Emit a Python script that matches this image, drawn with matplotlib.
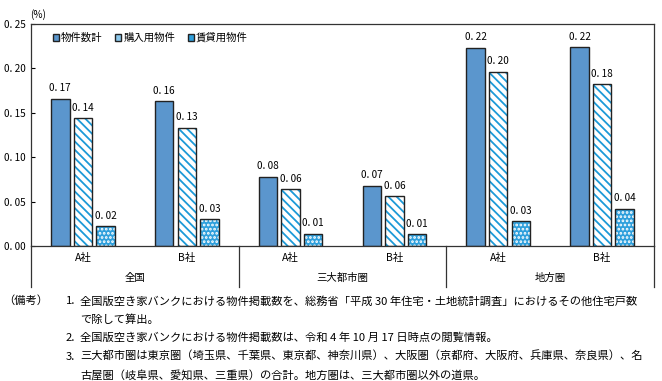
import matplotlib
matplotlib.use("Agg")
from matplotlib import pyplot as plt
from matplotlib.patches import Patch
import matplotlib.transforms as mtransforms
import numpy as np

plt.rcParams['font.family'] = ['Noto Sans CJK JP', 'DejaVu Sans']
plt.rcParams['hatch.linewidth'] = 1.3

# data
companies = ["A社", "B社", "A社", "B社", "A社", "B社"]
regions = ["全国", "三大都市圏", "地方圏"]
series_names = ["物件数計", "購入用物件", "賃貸用物件"]
total = [0.166, 0.163, 0.078, 0.068, 0.223, 0.224]
purchase = [0.144, 0.133, 0.064, 0.056, 0.196, 0.182]
rental = [0.022, 0.030, 0.014, 0.013, 0.028, 0.042]

notes = [
    ("（備考）", "1.", "全国版空き家バンクにおける物件掲載数を、総務省「平成 30 年住宅・土地統計調査」におけるその他住宅戸数"),
    ("", "", "で除して算出。"),
    ("", "2.", "全国版空き家バンクにおける物件掲載数は、令和 4 年 10 月 17 日時点の閲覧情報。"),
    ("", "3.", "三大都市圏は東京圏（埼玉県、千葉県、東京都、神奈川県）、大阪圏（京都府、大阪府、兵庫県、奈良県）、名"),
    ("", "", "古屋圏（岐阜県、愛知県、三重県）の合計。地方圏は、三大都市圏以外の道県。"),
]

blue = "#5b96cd"
stripe = "#1c9ad8"
dots = "#2e9fdc"

fig = plt.figure(figsize=(6.62, 3.81), dpi=100)
ax = fig.add_axes([31/662, 1-246/381, 623/662, 222/381])

x = np.arange(len(companies))
w = 0.178
gap = 0.218
styles = [
    dict(data=total, face=blue, hatch=None, hc=blue),
    dict(data=purchase, face="white", hatch="\\\\\\\\", hc=stripe),
    dict(data=rental, face=dots, hatch="....", hc="white"),
]
for i, s in enumerate(styles):
    xs = x + (i - 1) * gap
    # fill with hatch (hatch takes the edge colour), then a black outline on top
    ax.bar(xs, s["data"], w, color=s["face"], hatch=s["hatch"],
           edgecolor=s["hc"], linewidth=0, zorder=2)
    ax.bar(xs, s["data"], w, fill=False, edgecolor="#222222", linewidth=1.0, zorder=3)
    for xv, v in zip(xs, s["data"]):
        ax.annotate(f"{v:.2f}".replace(".", ". "), (xv, v), xytext=(0, 4),
                    textcoords="offset points", ha="center", va="bottom", fontsize=7.2)

ax.set_xlim(-0.5, 5.5)
ax.set_ylim(0, 0.25)
ax.set_yticks([0, 0.05, 0.10, 0.15, 0.20, 0.25])
ax.set_yticklabels([f"{t:.2f}".replace(".", ". ") for t in ax.get_yticks()], fontsize=7.2)
ax.tick_params(axis="y", direction="in", length=3, width=0.8, pad=4)
ax.set_xticks([])
for sp in ax.spines.values():
    sp.set_linewidth(0.9)
    sp.set_color("#333333")

# two-level category axis below the plot
trans = mtransforms.blended_transform_factory(ax.transData, ax.transAxes)
for xv, c in zip(x, companies):
    ax.text(xv, -12/222, c, transform=trans, ha="center", va="center", fontsize=7.5)
for k, r in enumerate(regions):
    ax.text(2*k + 0.5, -32/222, r, transform=trans, ha="center", va="center", fontsize=7.5)
for xb in [-0.5, 1.5, 3.5, 5.5]:
    ax.plot([xb, xb], [0, -41/222], transform=trans, color="#333333",
            linewidth=0.9, clip_on=False)

fig.text(30/662, 1-15/381, "(%)", ha="left", va="center", fontsize=7.2)

handles = [
    Patch(facecolor=blue, edgecolor="#222222"),
    Patch(facecolor="#8cc8ec", edgecolor="#222222"),
    Patch(facecolor=dots, edgecolor="#222222"),
]
ax.legend(handles, series_names, loc="upper left", bbox_to_anchor=(0.025, 0.99),
          ncol=3, frameon=False, fontsize=7.5, handlelength=0.6, handleheight=0.6,
          handletextpad=0.2, columnspacing=1.2, borderaxespad=0.2)

# notes under the chart
for j, (head, num, txt) in enumerate(notes):
    y = 1 - (301 + j*18.5)/381
    if head:
        fig.text(3/662, y, head, ha="left", va="center", fontsize=8.1)
    if num:
        fig.text(66/662, y, num, ha="left", va="center", fontsize=8.1)
    fig.text(80/662, y, txt, ha="left", va="center", fontsize=8.1)

fig.savefig("out.png", dpi=100)
